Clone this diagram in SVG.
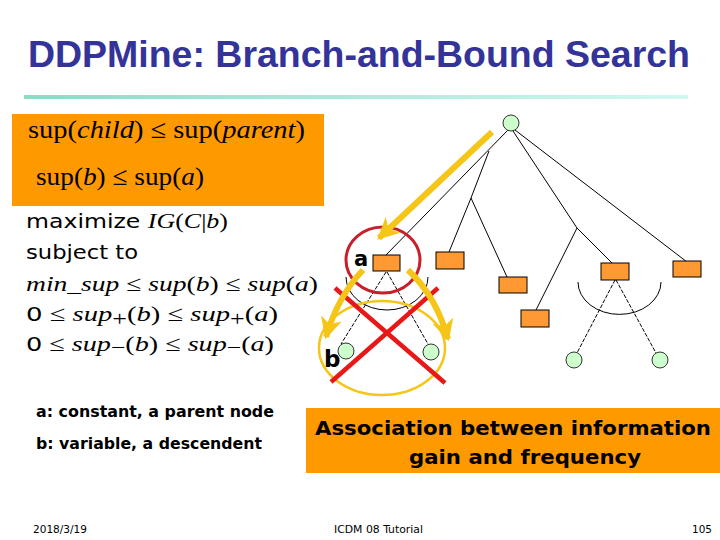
<svg xmlns="http://www.w3.org/2000/svg" width="720" height="540" viewBox="0 0 720 540">
<defs>
<linearGradient id="rule" x1="0" y1="0" x2="1" y2="0">
<stop offset="0" stop-color="#8adcc4"/>
<stop offset="1" stop-color="#d2f7f3"/>
</linearGradient>
<marker id="yh" markerUnits="userSpaceOnUse" markerWidth="24" markerHeight="24" viewBox="0 0 20 20" refX="16" refY="10" orient="auto">
<path d="M0,1 L18,10 L0,19 L5,10 Z" fill="#f5c518"/>
</marker>
<style>
.edge{stroke:#000;stroke-width:1;fill:none}
.dash{stroke:#000;stroke-width:1;fill:none;stroke-dasharray:4 1.5}
.box{fill:#ff9933;stroke:#000;stroke-width:1}
.leaf{fill:#ccffcc;stroke:#333;stroke-width:1}
.math{font-family:"Liberation Serif",serif;fill:#000}
.cm{font-family:"DejaVu Sans",sans-serif;fill:#000}
.bold{font-family:"DejaVu Sans",sans-serif;font-weight:bold;fill:#000}
.foot{font-family:"DejaVu Sans",sans-serif;font-size:11px;fill:#000}
.yarrow{stroke:#f5c518;stroke-width:6;fill:none;stroke-linecap:butt}
.red{stroke:#e81818;stroke-width:4.5;fill:none}
</style>
</defs>
<rect width="720" height="540" fill="#fff"/>

<g id="title">
<text x="28" y="67" font-family="Liberation Sans, sans-serif" font-weight="bold" font-size="37" fill="#333399" textLength="662" lengthAdjust="spacingAndGlyphs">DDPMine: Branch-and-Bound Search</text>
<rect x="24" y="95" width="664" height="4" fill="url(#rule)"/>
</g>

<g id="bound-box">
<rect x="12" y="114" width="312" height="92" fill="#ff9900"/>
<text class="math" x="28" y="138" font-size="26" textLength="277" lengthAdjust="spacingAndGlyphs">sup(<tspan font-style="italic">child</tspan>) ≤ sup(<tspan font-style="italic">parent</tspan>)</text>
<text class="math" x="36" y="185" font-size="26" textLength="168" lengthAdjust="spacingAndGlyphs">sup(<tspan font-style="italic">b</tspan>) ≤ sup(<tspan font-style="italic">a</tspan>)</text>
</g>

<g id="formulas">
<text class="cm" x="26" y="228" font-size="20" textLength="202" lengthAdjust="spacingAndGlyphs">maximize <tspan class="math" font-style="italic" font-size="22">IG</tspan><tspan class="math" font-size="22">(</tspan><tspan class="math" font-style="italic" font-size="22">C</tspan><tspan class="math" font-size="22">|</tspan><tspan class="math" font-style="italic" font-size="22">b</tspan><tspan class="math" font-size="22">)</tspan></text>
<text class="cm" x="26" y="259" font-size="20" textLength="112" lengthAdjust="spacingAndGlyphs">subject to</text>
<text class="math" x="26" y="291" font-size="22" font-style="italic" textLength="292" lengthAdjust="spacingAndGlyphs">min_sup <tspan font-style="normal">≤</tspan> sup<tspan font-style="normal">(</tspan>b<tspan font-style="normal">)</tspan> <tspan font-style="normal">≤</tspan> sup<tspan font-style="normal">(</tspan>a<tspan font-style="normal">)</tspan></text>
<text class="math" x="26" y="321" font-size="22" font-style="italic" textLength="252" lengthAdjust="spacingAndGlyphs"><tspan class="cm" font-style="normal" font-size="20">0</tspan> <tspan font-style="normal">≤</tspan> sup<tspan font-style="normal" font-size="20" dy="5">+</tspan><tspan font-style="normal" dy="-5">(</tspan>b<tspan font-style="normal">)</tspan> <tspan font-style="normal">≤</tspan> sup<tspan font-style="normal" font-size="20" dy="5">+</tspan><tspan font-style="normal" dy="-5">(</tspan>a<tspan font-style="normal">)</tspan></text>
<text class="math" x="26" y="351" font-size="22" font-style="italic" textLength="248" lengthAdjust="spacingAndGlyphs"><tspan class="cm" font-style="normal" font-size="20">0</tspan> <tspan font-style="normal">≤</tspan> sup<tspan font-style="normal" font-size="20" dy="3">−</tspan><tspan font-style="normal" dy="-3">(</tspan>b<tspan font-style="normal">)</tspan> <tspan font-style="normal">≤</tspan> sup<tspan font-style="normal" font-size="20" dy="3">−</tspan><tspan font-style="normal" dy="-3">(</tspan>a<tspan font-style="normal">)</tspan></text>
</g>

<g id="legend">
<text class="bold" x="36" y="417" font-size="15" textLength="238" lengthAdjust="spacingAndGlyphs">a: constant, a parent node</text>
<text class="bold" x="36" y="449" font-size="15" textLength="226" lengthAdjust="spacingAndGlyphs">b: variable, a descendent</text>
</g>

<g id="connectors">
<line class="edge" x1="508" y1="130" x2="386" y2="255"/>
<polyline class="edge" points="489,151 471,198 449,252"/>
<line class="edge" x1="471" y1="198" x2="507" y2="277"/>
<polyline class="edge" points="513,131 577,228 536,310"/>
<line class="edge" x1="577" y1="228" x2="612" y2="263"/>
<line class="edge" x1="515" y1="130" x2="687" y2="262"/>
<line class="dash" x1="386" y1="272" x2="341" y2="344"/>
<line class="dash" x1="387" y1="272" x2="428" y2="344"/>
<line class="dash" x1="615" y1="280" x2="577" y2="353"/>
<line class="dash" x1="616" y1="280" x2="656" y2="353"/>
<path class="edge" d="M346,277 A41,33 0 0 0 428,277"/>
<path class="edge" d="M578,282 A41,32 0 0 0 661,282"/>
</g>

<g id="root"><circle class="leaf" cx="511" cy="123" r="8"/></g>
<g id="node-a"><rect class="box" x="373" y="255" width="27" height="16"/></g>
<g id="node-2"><rect class="box" x="436" y="252" width="28" height="17"/></g>
<g id="node-3"><rect class="box" x="499" y="277" width="28" height="16"/></g>
<g id="node-4"><rect class="box" x="521" y="310" width="28" height="17"/></g>
<g id="node-5"><rect class="box" x="601" y="263" width="28" height="17"/></g>
<g id="node-6"><rect class="box" x="673" y="261" width="28" height="16"/></g>
<g id="leaf-b"><circle class="leaf" cx="346" cy="351" r="8"/></g>
<g id="leaf-b2"><circle class="leaf" cx="431" cy="352" r="8"/></g>
<g id="leaf-3"><circle class="leaf" cx="574" cy="360" r="8"/></g>
<g id="leaf-4"><circle class="leaf" cx="660" cy="360" r="8"/></g>

<g id="highlights">
<ellipse cx="383" cy="260" rx="37" ry="33" fill="none" stroke="#c8202a" stroke-width="3"/>
<ellipse cx="382" cy="348" rx="63" ry="47" fill="none" stroke="#f5c518" stroke-width="2.5"/>
<line class="red" x1="335" y1="288" x2="445" y2="383"/>
<line class="red" x1="438" y1="288" x2="331" y2="382"/>
<line class="yarrow" x1="492" y1="132" x2="379" y2="238" marker-end="url(#yh)"/>
<path class="yarrow" d="M363,270 Q338,296 326,337" marker-end="url(#yh)"/>
<path class="yarrow" d="M408,270 Q436,296 448,339" marker-end="url(#yh)"/>
<text class="bold" x="354" y="266" font-size="21">a</text>
<text class="bold" x="324" y="367" font-size="23">b</text>
</g>

<g id="note">
<rect x="306" y="408" width="414" height="65" fill="#ff9900"/>
<text class="bold" x="513" y="435" font-size="19" text-anchor="middle" textLength="396" lengthAdjust="spacingAndGlyphs">Association between information</text>
<text class="bold" x="525" y="464" font-size="19" text-anchor="middle" textLength="232" lengthAdjust="spacingAndGlyphs">gain and frequency</text>
</g>

<g id="footer">
<text class="foot" x="33" y="533" textLength="54" lengthAdjust="spacingAndGlyphs">2018/3/19</text>
<text class="foot" x="334" y="533" textLength="89" lengthAdjust="spacingAndGlyphs">ICDM 08 Tutorial</text>
<text class="foot" x="712" y="533" text-anchor="end" textLength="20" lengthAdjust="spacingAndGlyphs">105</text>
</g>
</svg>
